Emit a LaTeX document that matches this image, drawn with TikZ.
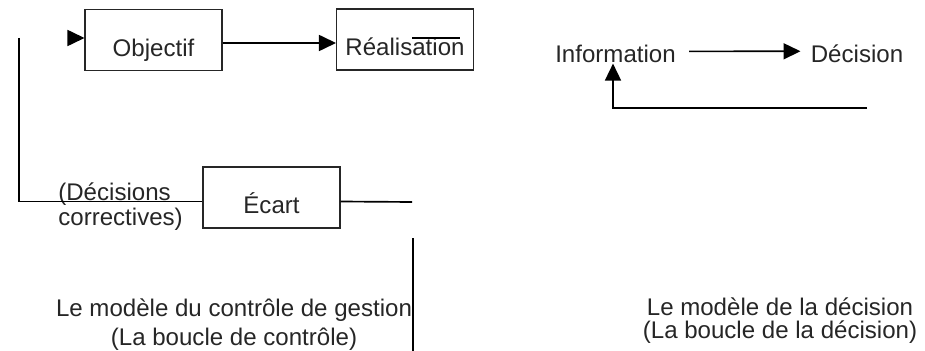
\documentclass[tikz,border=0pt]{standalone}
\usepackage{fontspec}
\setmainfont{Liberation Sans}
\usetikzlibrary{positioning,arrows.meta}

\begin{document}
\begin{tikzpicture}[x=0.02cm, y=-0.02cm,
        box/.style={rectangle, draw=black!85, line width=0.6pt, minimum width=2.74cm, minimum height=1.22cm, inner sep=0pt, text height=0.66cm, text depth=0pt, font=\fontsize{13.7}{16.4}\selectfont, text=black!85},
        lbl/.style={inner sep=0pt, font=\fontsize{13.7}{16.4}\selectfont, text=black!85},
        line/.style={line width=0.95pt},
        arrow/.style={line, -{Triangle[length=0.34cm, width=0.32cm]}},
      ]
      \useasboundingbox (0,0) rectangle (925,351);
      % boucle de controle
      \node [box] (obj) at (153.5,40) {Objectif};
      \node [box] (real) at (405,39.5) {Réalisation};
      \node [box] (ecart) at (271.5,197.5) {Écart\hspace{0.2cm}};
      \node [lbl, align=left, anchor=base west, font=\fontsize{13.7}{14.2}\selectfont] (corr) at (58,225) {(Décisions\\correctives)};
      \node [lbl, align=center, anchor=base] (capl) at (234,345) {Le modèle du contrôle de gestion\\(La boucle de contrôle)};
      \coordinate (cin) at (68,38);
      \coordinate (ctop) at (19,38);
      \coordinate (cright) at (412,202);
      \coordinate (vtop) at (413,238);
      \coordinate (vbot) at (413,351);
      \coordinate (sa) at (412,38);
      \coordinate (sb) at (460,38);
      \draw [arrow] (cin) -- (cin -| obj.west);
      \draw [arrow] ([yshift=-0.06cm]obj.east) -- ([yshift=-0.06cm]obj.east -| real.west);
      \draw [line] (sa) -- (sb);
      \draw [line] (ctop) |- ([yshift=-0.08cm]ecart.west);
      \draw [line] ([yshift=-0.08cm]ecart.east) -- (cright);
      \draw [line] (vtop) -- (vbot);
      % boucle de decision
      \node [lbl, anchor=base] (info) at (615.5,63) {Information};
      \node [lbl, anchor=base] (dec) at (857,63) {Décision};
      \node [lbl, align=center, anchor=base, font=\fontsize{13.7}{13}\selectfont] (capr) at (780,338) {Le modèle de la décision\\(La boucle de la décision)};
      \coordinate (fb) at (867,108);
      \draw [arrow, shorten <=0.26cm, shorten >=0.2cm] ([yshift=0.06cm]info.east) -- ([yshift=0.06cm]dec.west);
      \draw [arrow] (fb) -| ([xshift=-0.05cm]info.south);
    \end{tikzpicture}
\end{document}
